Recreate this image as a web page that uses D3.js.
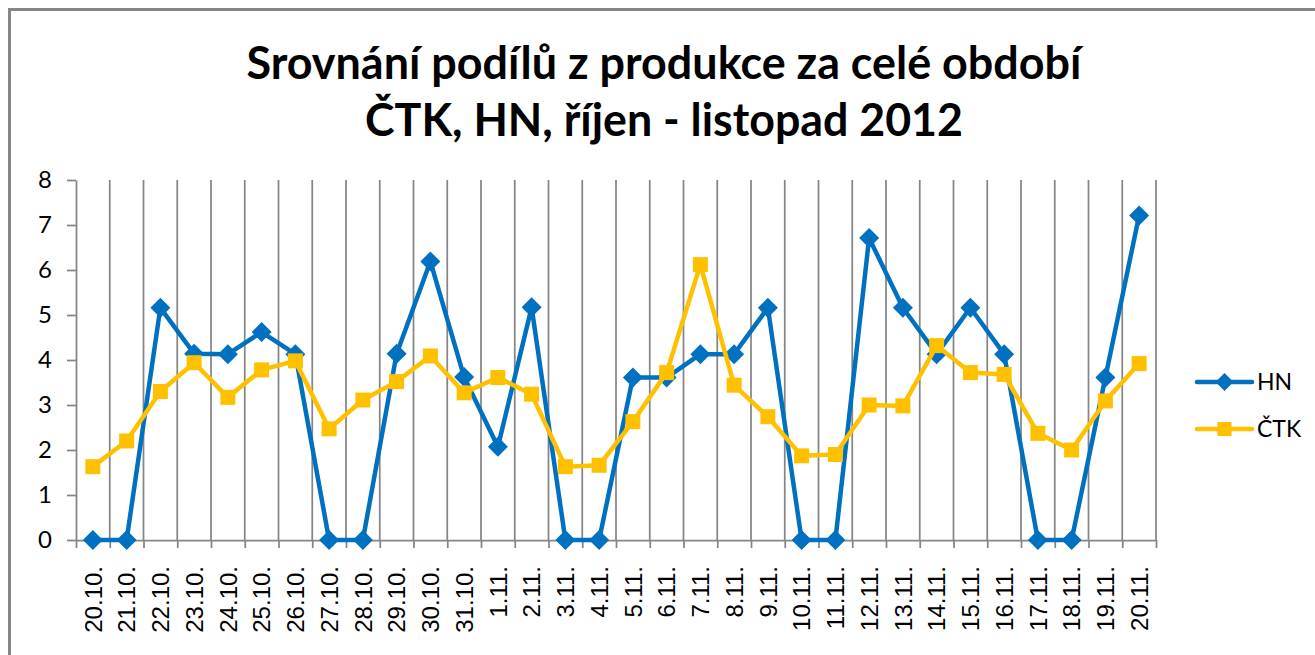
<!DOCTYPE html>
<html>
<head>
<meta charset="utf-8">
<script src="https://cdn.jsdelivr.net/npm/d3@7"></script>
<style>
    body { margin: 0; background: #fff; }
</style>
</head>
<body>
<div class="visHolder"></div>
<script>
/* global d3 */
const categories = ['20.10.', '21.10.', '22.10.', '23.10.', '24.10.', '25.10.', '26.10.', '27.10.',
    '28.10.', '29.10.', '30.10.', '31.10.', '1.11.', '2.11.', '3.11.', '4.11.', '5.11.', '6.11.',
    '7.11.', '8.11.', '9.11.', '10.11.', '11.11.', '12.11.', '13.11.', '14.11.', '15.11.', '16.11.',
    '17.11.', '18.11.', '19.11.', '20.11.'];

const hnValues = [0, 0, 5.16, 4.14, 4.13, 4.62, 4.13, 0, 0, 4.14, 6.19, 3.62, 2.07, 5.17, 0, 0,
    3.61, 3.61, 4.13, 4.13, 5.16, 0, 0, 6.71, 5.16, 4.13, 5.16, 4.13, 0, 0, 3.61, 7.21];

const ctkValues = [1.63, 2.2, 3.3, 3.94, 3.17, 3.78, 3.98, 2.47, 3.11, 3.52, 4.09, 3.27, 3.61, 3.24,
    1.63, 1.66, 2.63, 3.72, 6.12, 3.44, 2.74, 1.87, 1.9, 3.0, 2.98, 4.32, 3.72, 3.68, 2.37, 2.0,
    3.09, 3.92];

const yTicks = [0, 1, 2, 3, 4, 5, 6, 7, 8];
const titleLines = ['Srovnání podílů z produkce za celé období', 'ČTK, HN, říjen - listopad 2012'];
const seriesNames = ['HN', 'ČTK'];

const width = 1315,
    height = 655,
    plotLeft = 76,
    plotRight = 1156,
    plotTop = 180,
    plotBottom = 540,
    gray = '#868686',
    blue = '#0070C0',
    yellow = '#FFC000';

const svg = d3.select('.visHolder')
    .append('svg')
    .attr('width', width)
    .attr('height', height);

// rámeček grafu
svg.append('rect')
    .attr('x', 9.5)
    .attr('y', 9.5)
    .attr('width', width + 20)
    .attr('height', height + 20)
    .attr('fill', 'none')
    .attr('stroke', gray)
    .attr('stroke-width', 3);

// titulek
svg.selectAll('.title')
    .data(titleLines)
    .enter()
    .append('text')
    .attr('class', 'title')
    .attr('x', 664)
    .attr('y', (d, i) => 79 + i * 57)
    .attr('text-anchor', 'middle')
    .attr('textLength', (d, i) => i === 0 ? 835 : 598)
    .attr('lengthAdjust', 'spacingAndGlyphs')
    .style('font-family', 'Lato, "Open Sans", sans-serif')
    .style('font-weight', 'bold')
    .style('font-size', '45px')
    .style('fill', '#000')
    .text(d => d);

const xScale = d3.scaleBand()
    .domain(categories)
    .range([plotLeft, plotRight]);

const xEdge = d3.scaleLinear()
    .domain([0, categories.length])
    .range([plotLeft, plotRight]);

const yScale = d3.scaleLinear()
    .domain([0, 8])
    .range([plotBottom, plotTop]);

// svislé mřížky
svg.append('g')
    .selectAll('line')
    .data(d3.range(1, categories.length + 1))
    .enter()
    .append('line')
    .attr('x1', d => xEdge(d))
    .attr('x2', d => xEdge(d))
    .attr('y1', plotTop)
    .attr('y2', plotBottom)
    .attr('stroke', gray)
    .attr('stroke-width', 1.75);

// Osa Y
const yAxis = svg.append('g')
    .attr('transform', `translate(${plotLeft},0)`)
    .call(d3.axisLeft(yScale).tickValues(yTicks).tickSize(9).tickSizeOuter(0).tickPadding(15));
yAxis.selectAll('path, line').attr('stroke', gray).attr('stroke-width', 1.75);
yAxis.selectAll('text')
    .style('font-family', 'Lato, "Open Sans", sans-serif')
    .style('font-size', '24px')
    .style('fill', '#000');

// Osa X - čárky na hranicích kategorií
const xTicks = svg.append('g')
    .attr('transform', `translate(0,${plotBottom})`)
    .call(d3.axisBottom(xEdge).tickValues(d3.range(categories.length + 1)).tickFormat('').tickSize(8).tickSizeOuter(0));
xTicks.selectAll('path, line').attr('stroke', gray).attr('stroke-width', 1.75);

const xAxis = svg.append('g')
    .attr('transform', `translate(0,${plotBottom})`)
    .call(d3.axisBottom(xScale).tickSize(0));
xAxis.select('.domain').remove();
xAxis.selectAll('text')
    .attr('transform', 'rotate(-90)')
    .attr('x', -26)
    .attr('y', 0)
    .attr('dy', '0.36em')
    .attr('text-anchor', 'end')
    .style('font-family', '"Liberation Sans", Arial, sans-serif')
    .style('font-size', '24px')
    .style('fill', '#000');

const diamond = r => `M0,${-r}L${r},0L0,${r}L${-r},0Z`;

const line = d3.line()
    .x((d, i) => xScale(categories[i]) + xScale.bandwidth() / 2)
    .y(d => yScale(d));

function drawSeries(values, color, shape) {
    const g = svg.append('g');
    g.append('path')
        .datum(values)
        .attr('d', line)
        .attr('fill', 'none')
        .attr('stroke', color)
        .attr('stroke-width', 4.5)
        .attr('stroke-linejoin', 'round');
    g.selectAll('.marker')
        .data(values)
        .enter()
        .append('path')
        .attr('class', 'marker')
        .attr('d', shape === 'diamond' ? diamond(10) : 'M-7.5,-7.5H7.5V7.5H-7.5Z')
        .attr('transform', (d, i) => `translate(${xScale(categories[i]) + xScale.bandwidth() / 2},${yScale(d)})`)
        .attr('fill', color);
}

drawSeries(hnValues, blue, 'diamond');
drawSeries(ctkValues, yellow, 'square');

// legenda
const legend = svg.append('g')
    .selectAll('g')
    .data(seriesNames)
    .enter()
    .append('g')
    .attr('transform', (d, i) => `translate(1197,${382 + i * 47})`);

legend.append('line')
    .attr('x1', 0)
    .attr('x2', 55)
    .attr('stroke', (d, i) => i === 0 ? blue : yellow)
    .attr('stroke-width', 4.5)
    .attr('stroke-linecap', 'round');

legend.append('path')
    .attr('d', (d, i) => i === 0 ? diamond(9) : 'M-7,-7H7V7H-7Z')
    .attr('transform', 'translate(27.5,0)')
    .attr('fill', (d, i) => i === 0 ? blue : yellow);

legend.append('text')
    .attr('x', 60)
    .attr('y', 0)
    .attr('dy', '0.35em')
    .style('font-family', 'Lato, "Open Sans", sans-serif')
    .style('font-size', '23px')
    .style('fill', '#000')
    .text(d => d);
</script>
</body>
</html>
